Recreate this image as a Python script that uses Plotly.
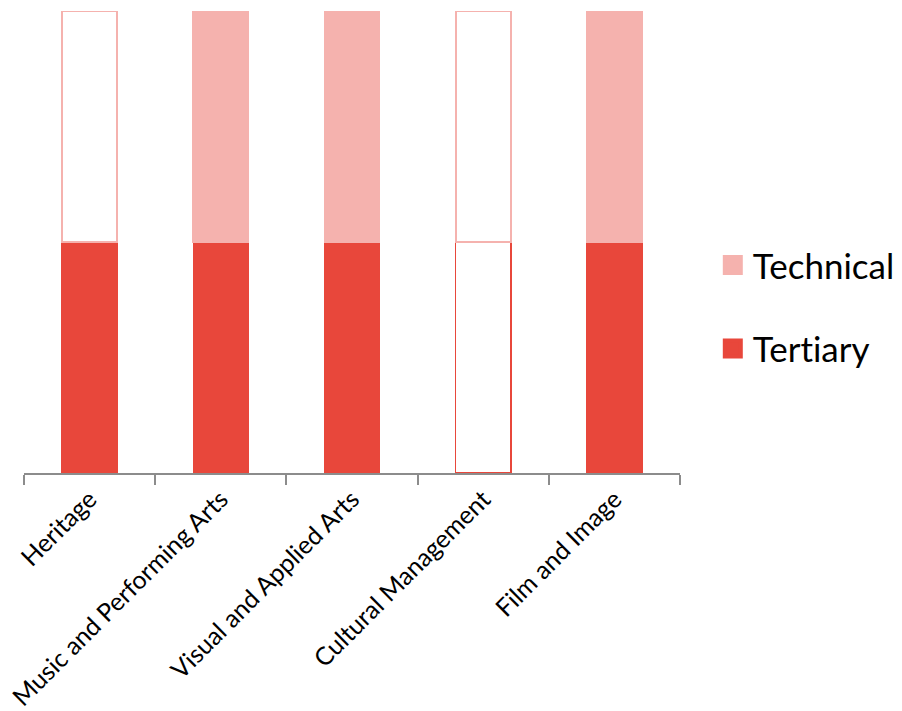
import plotly.graph_objects as go

# Cultural education offer by field: 1 = offered (filled), 0 = not offered (outline only)
fields = ["Heritage", "Music and Performing Arts", "Visual and Applied Arts",
          "Cultural Management", "Film and Image"]
tertiary_offered = [1, 1, 1, 0, 1]
technical_offered = [0, 1, 1, 0, 1]
segment_height = [1, 1, 1, 1, 1]

tertiary_color = "#E8473B"
technical_color = "#F5B2AE"
font_family = "Lato, 'Open Sans', sans-serif"


def fills(offered, color):
    return [color if v else "white" for v in offered]


fig = go.Figure()
fig.add_trace(go.Bar(
    x=fields, y=segment_height, name="Tertiary", showlegend=False,
    marker=dict(color=fills(tertiary_offered, tertiary_color),
                line=dict(color=tertiary_color, width=1.5)),
    width=0.42,
))
fig.add_trace(go.Bar(
    x=fields, y=segment_height, name="Technical", showlegend=False,
    marker=dict(color=fills(technical_offered, technical_color),
                line=dict(color=technical_color, width=1.8)),
    width=0.42,
))

# Legend entries with large square swatches
for name, color, group in [("Technical", technical_color, "a"),
                           ("Tertiary", tertiary_color, "b")]:
    fig.add_trace(go.Scatter(
        x=[None], y=[None], mode="markers", name=name, legendgroup=group,
        marker=dict(symbol="square", size=16, color=color,
                    line=dict(color=color, width=4)),
    ))

fig.update_layout(
    barmode="stack",
    width=902, height=711,
    margin=dict(l=24, r=222, t=11, b=238, autoexpand=False),
    plot_bgcolor="white", paper_bgcolor="white",
    font=dict(family=font_family, color="black"),
    showlegend=True,
    legend=dict(
        x=1.05, y=0.36, xanchor="left", yanchor="middle",
        font=dict(size=35, family=font_family),
        traceorder="grouped", tracegroupgap=35,
        itemsizing="trace",
    ),
    xaxis=dict(
        type="category", range=[-0.5, 4.5], automargin=False,
        showline=True, linecolor="#8C8C8C", linewidth=1.5,
        ticks="outside", tickson="boundaries", ticklen=10,
        tickcolor="#8C8C8C", tickwidth=1.5,
        tickangle=-45, tickfont=dict(size=25, family=font_family),
        showgrid=False, zeroline=False,
    ),
    yaxis=dict(range=[0, 2], visible=False, showgrid=False, zeroline=False,
               automargin=False),
)

# Render plain letter pairs (no "ti" ligature) in all SVG text
no_ligatures = (
    "var s = document.createElement('style');"
    "s.textContent = 'text { font-variant-ligatures: none; font-feature-settings: \"liga\" 0; }';"
    "document.head.appendChild(s);"
)
fig.write_html("out.html", post_script=no_ligatures)
